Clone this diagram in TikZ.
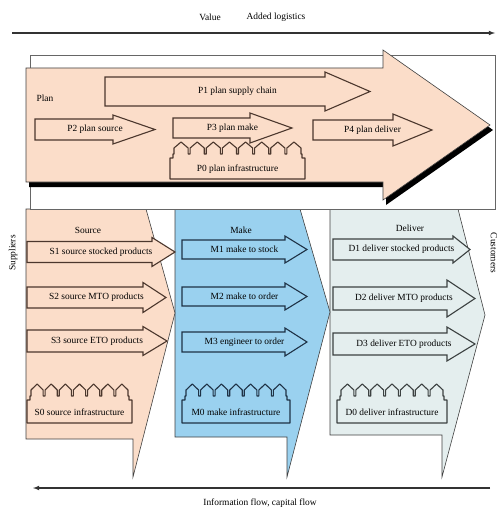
\documentclass[tikz,border=0pt]{standalone}
\usepackage{fontspec}
\setmainfont{Liberation Serif}

\definecolor{peach}{RGB}{251,221,201}
\definecolor{skyb}{RGB}{154,209,239}
\definecolor{greyb}{RGB}{228,238,238}
\definecolor{plandraw}{RGB}{75,55,45}
\definecolor{makedraw}{RGB}{30,50,70}
\definecolor{deldraw}{RGB}{60,65,65}

\tikzset{
  lbl/.style={font=\fontsize{9.4}{10}\selectfont, inner sep=0pt},
  srcbox/.style={fill=peach, draw=plandraw, line width=1.1pt},
  makebox/.style={fill=skyb, draw=makedraw, line width=1.1pt},
  delbox/.style={fill=greyb, draw=deldraw, line width=1.1pt},
  column/.style={draw=black!75, line width=0.6pt},
  flow/.style={-latex, draw=black!80, line width=1.1pt}
}

% arrow with text: name, style, x start, x head, x tip, y centre, half body, half head, text
\newcommand{\procarrow}[9]{%
  \draw[#2] (#3,#6-#7) -- (#4,#6-#7) -- (#4,#6-#8) -- (#5,#6)
    -- (#4,#6+#8) -- (#4,#6+#7) -- (#3,#6+#7) -- cycle;
  \node[lbl] (#1) at ({(#3+#5)/2},#6) {#9};
}

% infrastructure block: name, style, x left, x right, bumps, y top, y bottom, text
\newcommand{\infra}[8]{%
  \pgfmathsetmacro\bumpw{(#4-#3-6)/#5}
  \draw[#2, line join=round] (#3,#7) -- (#3,#6+16) -- (#3+3,#6+16) -- (#3+3,#6+12)
    \foreach \k in {1,...,#5} {
      -- ({#3+3+(\k-1)*\bumpw+1},#6+12) -- ({#3+3+(\k-1)*\bumpw+1},#6+6)
      -- ({#3+3+(\k-0.5)*\bumpw},#6) -- ({#3+3+\k*\bumpw-1},#6+6)
      -- ({#3+3+\k*\bumpw-1},#6+12)
    }
    -- (#4-3,#6+12) -- (#4-3,#6+16) -- (#4,#6+16) -- (#4,#7) -- cycle;
  \node[lbl] (#1) at ({(#3+#4)/2},{(#6+16+#7)/2+1}) {#8};
}

\begin{document}
\begin{tikzpicture}[x=1pt,y=-1pt]
  \useasboundingbox (0,0) rectangle (501,511);

  % value flow on top
  \coordinate (vstart) at (12,33);
  \coordinate (vend) at (495,33);
  \draw[flow] (vstart) -- (vend);
  \node[lbl] (value) at (210,17) {Value};
  \node[lbl] (added) at (276,17) {Added logistics};

  % columns
  \draw[column, fill=greyb] (330,209) -- (458,209) -- (485,315) -- (442,477)
    -- (442,435) -- (330,435) -- cycle;
  \draw[column, fill=skyb] (175,209) -- (300,209) -- (330,312) -- (287,477)
    -- (287,437) -- (175,437) -- cycle;
  \draw[column, fill=peach] (26,209) -- (146,209) -- (175,313) -- (133,477)
    -- (133,439) -- (26,439) -- cycle;

  % plan frame and arrow
  \draw[draw=black!60, fill=white, line width=0.7pt] (30,55) rectangle (495,209);
  \fill[black] (29,73) -- (386,73) -- (386,55) -- (493,130) -- (386,205)
    -- (386,187) -- (29,187) -- cycle;
  \draw[column, fill=peach] (26,68) -- (383,68) -- (383,50) -- (490,125)
    -- (383,200) -- (383,182) -- (26,182) -- cycle;
  \node[lbl] (plan) at (45,98) {Plan};

  \procarrow{p1}{srcbox}{105}{325}{370}{91.5}{14.5}{19.5}{P1 plan supply chain}
  \procarrow{p2}{srcbox}{35}{113}{155}{129.5}{10.5}{14.5}{P2 plan source}
  \procarrow{p3}{srcbox}{173}{250}{292}{128}{10}{15}{P3 plan make}
  \procarrow{p4}{srcbox}{313}{393}{432}{130}{10}{16}{P4 plan deliver}
  \infra{p0}{srcbox}{170}{305}{8}{142}{179}{P0 plan infrastructure}

  % source
  \node[lbl] (source) at (88,230) {Source};
  \procarrow{s1}{srcbox}{27}{152}{175}{252}{10.5}{14.5}{S1 source stocked products}
  \procarrow{s2}{srcbox}{27}{143}{166}{297.5}{10.5}{15}{S2 source MTO products}
  \procarrow{s3}{srcbox}{27}{143}{167}{341}{11}{14.5}{S3 source ETO products}
  \infra{s0}{srcbox}{27}{132}{7}{384}{423}{S0 source infrastructure}

  % make
  \node[lbl] (make) at (241,230) {Make};
  \procarrow{m1}{makebox}{182}{285}{307}{249.5}{9.5}{13.5}{M1 make to stock}
  \procarrow{m2}{makebox}{182}{285}{307}{296.5}{9.5}{13.5}{M2 make to order}
  \procarrow{m3}{makebox}{182}{285}{307}{342}{10}{14}{M3 engineer to order}
  \infra{m0}{makebox}{182}{290}{7}{384}{423}{M0 make infrastructure}

  % deliver
  \node[lbl] (deliver) at (410,228) {Deliver};
  \procarrow{d1}{delbox}{333}{453}{470}{249.5}{10.5}{13.5}{D1 deliver stocked products}
  \procarrow{d2}{delbox}{333}{447}{475}{298.5}{11.5}{18.5}{D2 deliver MTO products}
  \procarrow{d3}{delbox}{333}{447}{475}{344}{11}{17}{D3 deliver ETO products}
  \infra{d0}{delbox}{337}{447}{7}{384}{423}{D0 deliver infrastructure}

  % sides
  \node[lbl, rotate=90] (suppliers) at (13,253) {Suppliers};
  \node[lbl, rotate=-90] (customers) at (494,253) {Customers};

  % information flow at the bottom
  \coordinate (istart) at (490,488);
  \coordinate (iend) at (33,488);
  \draw[flow] (istart) -- (iend);
  \node[lbl] (info) at (260,503) {Information flow, capital flow};
\end{tikzpicture}
\end{document}
